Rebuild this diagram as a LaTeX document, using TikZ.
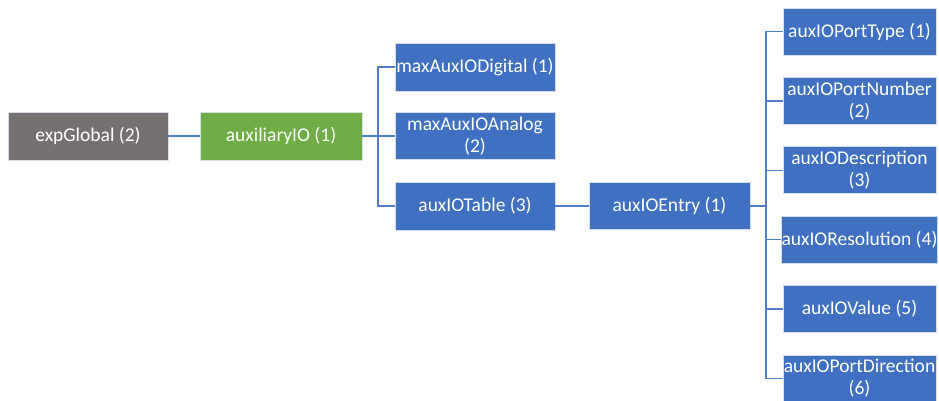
\documentclass[tikz,border=0pt]{standalone}
\usepackage{fontspec}
\setmainfont{Carlito}
\definecolor{boxblue}{HTML}{3F70C2}
\definecolor{boxgray}{HTML}{767171}
\definecolor{boxgreen}{HTML}{70AD47}
\definecolor{lineblue}{HTML}{4F7CC8}
\definecolor{edge}{HTML}{D6DCE5}
\begin{document}
\begin{tikzpicture}[x=1pt,y=-1pt,
  box/.style={rectangle, draw=edge, line width=0.7pt, fill=boxblue, text=white,
    minimum height=47pt, inner sep=0pt, align=center,
    font=\fontsize{19.5}{22}\selectfont},
  link/.style={draw=lineblue, line width=1.4pt}]
\useasboundingbox (0,0) rectangle (939,400);
% level 0/1
\node[box, fill=boxgray, minimum width=160pt, minimum height=48pt] (exp) at (88,136) {expGlobal (2)};
\node[box, fill=boxgreen, minimum width=162pt, minimum height=48pt] (aux) at (281,136) {auxiliaryIO (1)};
% level 2
\node[box, minimum width=160pt, minimum height=48pt] (dig) at (475,67) {maxAuxIODigital (1)};
\node[box, minimum width=160pt] (ana) at (475,136) {maxAuxIOAnalog\\(2)};
\node[box, minimum width=160pt, minimum height=48pt] (tab) at (475,206) {auxIOTable (3)};
% level 3
\node[box, minimum width=161pt] (ent) at (669.5,206) {auxIOEntry (1)};
% level 4
\node[box, minimum width=153pt] (pt) at (859.5,31.5) {auxIOPortType (1)};
\node[box, minimum width=153pt] (pn) at (859.5,100.9) {auxIOPortNumber\\(2)};
\node[box, minimum width=153pt] (de) at (859.5,170.3) {auxIODescription\\(3)};
\node[box, minimum width=153pt] (re) at (859.5,239.7) {auxIOResolution (4)};
\node[box, minimum width=153pt] (va) at (859.5,309.1) {auxIOValue (5)};
\node[box, minimum width=153pt] (pd) at (859.5,378.5) {auxIOPortDirection\\(6)};
% connectors
\draw[link] (exp.east) -- (aux.west);
\coordinate (t1) at (378,136);
\draw[link] (aux.east) -- (t1);
\draw[link] (t1) |- (dig.west);
\draw[link] (t1) -- (ana.west);
\draw[link] (t1) |- (tab.west);
\draw[link] (tab.east) -- (ent.west);
\coordinate (t2) at (766,206);
\draw[link] (ent.east) -- (t2);
\foreach \n in {pt,pn,de,re,va,pd}{
  \draw[link] (t2) |- (\n.west);
}
\end{tikzpicture}
\end{document}
